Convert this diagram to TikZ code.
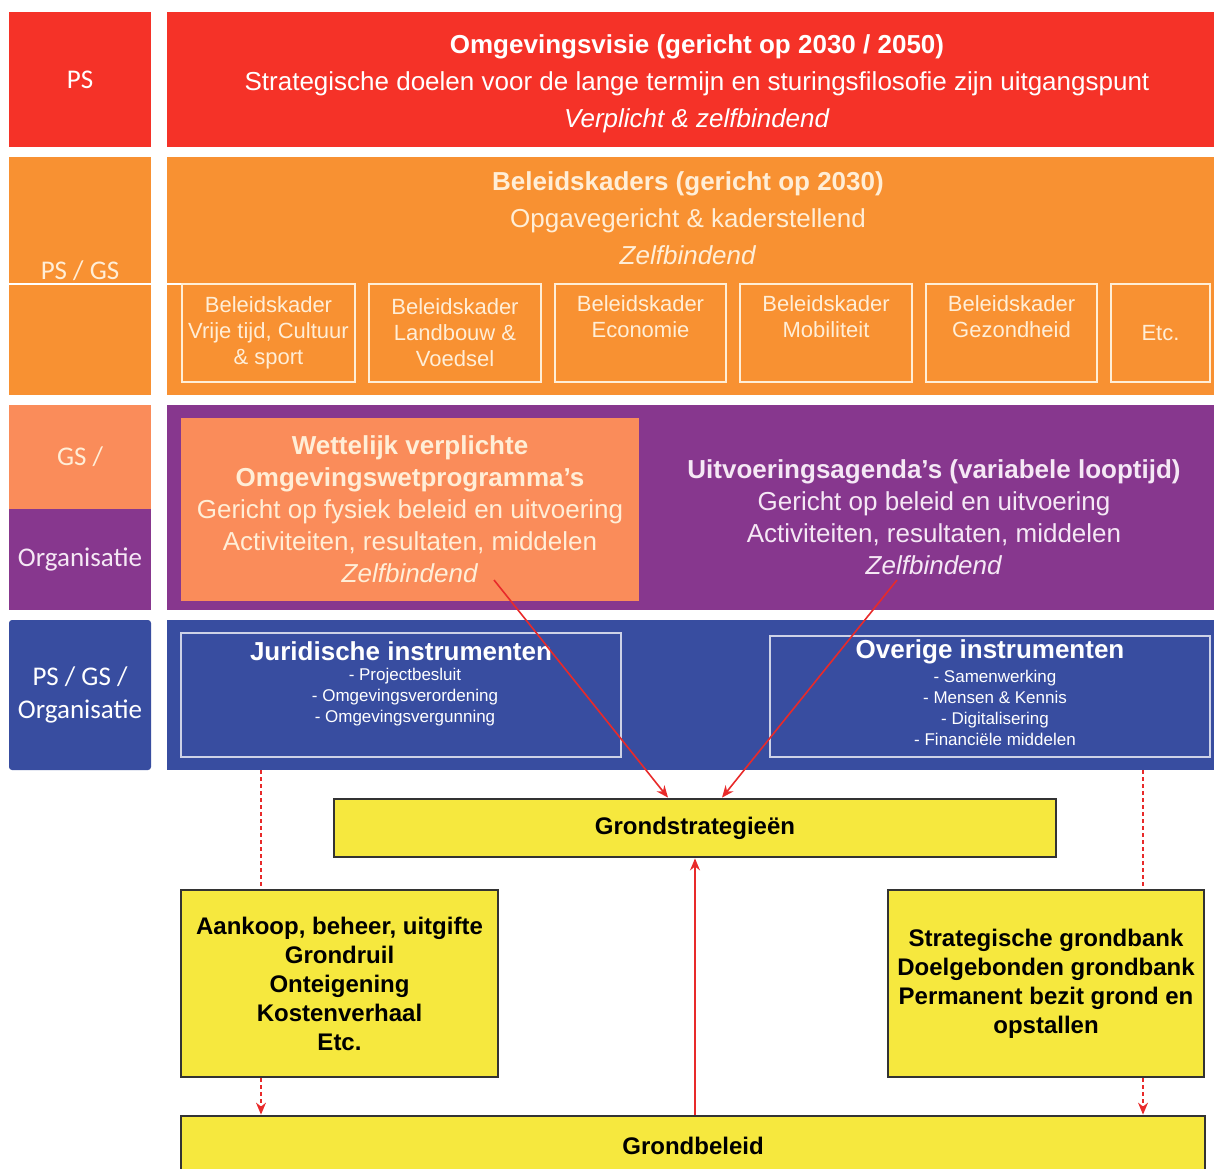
\documentclass[tikz,border=0pt]{standalone}
\usepackage{fontspec}
\setmainfont{Liberation Sans}
\newfontfamily\lblfont{Carlito}
\usetikzlibrary{arrows.meta}

\definecolor{visiered}{RGB}{245,50,40}
\definecolor{kaderorange}{RGB}{248,145,50}
\definecolor{progsalmon}{RGB}{250,140,90}
\definecolor{agendapurple}{RGB}{135,55,142}
\definecolor{instrblue}{RGB}{56,77,160}
\definecolor{grondyellow}{RGB}{246,232,62}
\definecolor{cream}{RGB}{255,238,215}
\definecolor{lavwhite}{RGB}{245,232,245}
\definecolor{lijnrood}{RGB}{232,42,42}

\tikzset{
  >={Stealth[length=6pt,width=5pt]},
  sz/.style 2 args={minimum width=#1*0.5pt,minimum height=#2*0.5pt},
  band/.style={inner sep=0pt,outer sep=0pt},
  lblbox/.style={band,align=center,font=\lblfont\fontsize{13.5}{16.5}\selectfont},
  kader/.style={draw=cream,line width=0.9pt,inner sep=0pt,text=cream,
    align=center,font=\fontsize{11}{13}\selectfont},
  instrbox/.style={draw=white!75!instrblue,line width=1pt,inner sep=0pt},
  grondbox/.style={draw=black!80,line width=1.4pt,fill=grondyellow,inner sep=0pt,
    align=center,font=\bfseries\fontsize{12}{14.5}\selectfont},
  bandtxt/.style={align=center,font=\fontsize{13}{18.5}\selectfont},
  progtxt/.style={align=center,font=\fontsize{13}{16}\selectfont},
  instrtitle/.style={text=white,font=\bfseries\fontsize{13}{15}\selectfont},
  itemtxt/.style={align=center,text=white,font=\fontsize{8.5}{10.6}\selectfont},
  flow/.style={->,lijnrood,line width=0.8pt},
  dflow/.style={lijnrood,line width=0.7pt,dash pattern=on 2pt off 1.5pt},
}

\begin{document}
\begin{tikzpicture}[x=0.5pt,y=-0.5pt]
  \useasboundingbox (0,0) rectangle (1214,1168);

  % linker kolom
  \node[lblbox,sz={142}{135},fill=visiered,text=white] (lps) at (80,79.5) {PS};
  \node[lblbox,sz={142}{238},fill=kaderorange] (lpsgs) at (80,276) {};
  \draw[white,line width=0.6pt] (lpsgs.west |- 0,284) -- (lpsgs.east |- 0,284);
  \node[lblbox,text=cream] (lpsgstxt) at (80,271) {PS / GS};
  \node[lblbox,sz={142}{104},fill=progsalmon,text=cream] (lgs) at (80,457) {GS /};
  \node[lblbox,sz={142}{101},fill=agendapurple,text=lavwhite] (lorg) at (80,559.5) {Organisatie};
  \node[lblbox,sz={142}{150},fill=instrblue,text=white,rounded corners=1.5pt] (lall) at (80,695)
    {PS / GS /\\Organisatie};

  % omgevingsvisie
  \node[band,sz={1063}{135},fill=visiered] (visie) at (698.5,79.5) {};
  \node[bandtxt,text=white] (visietxt) at (697,84)
    {\textbf{Omgevingsvisie (gericht op 2030 / 2050)}\\
     Strategische doelen voor de lange termijn en sturingsfilosofie zijn uitgangspunt\\
     \textit{Verplicht \& zelfbindend}};

  % beleidskaders
  \node[band,sz={1063}{238},fill=kaderorange] (kaders) at (698.5,276) {};
  \draw[white,line width=0.6pt] (167,284) -- (182,284);
  \node[bandtxt,text=cream] (kaderstxt) at (688,218.5)
    {\textbf{Beleidskaders (gericht op 2030)}\\
     Opgavegericht \& kaderstellend\\
     \textit{Zelfbindend}};
  \node[kader,sz={173}{98}] (k1) at (268.5,333) {Beleidskader\\Vrije tijd, Cultuur\\\& sport};
  \node[kader,sz={172}{98}] (k2) at (455,333) {Beleidskader\\Landbouw \&\\Voedsel};
  \node[kader,sz={171}{98}] (k3) at (640.5,333) {Beleidskader\\Economie\\\strut};
  \node[kader,sz={172}{98}] (k4) at (826,333) {Beleidskader\\Mobiliteit\\\strut};
  \node[kader,sz={171}{98}] (k5) at (1011.5,333) {Beleidskader\\Gezondheid\\\strut};
  \node[kader,sz={99}{98}] (k6) at (1160.5,333) {Etc.};

  % programma's en uitvoeringsagenda's
  \node[band,sz={1063}{205},fill=agendapurple] (agenda) at (698.5,507.5) {};
  \node[band,progtxt,sz={458}{183},fill=progsalmon,text=cream] (prog) at (410,509.5)
    {\textbf{Wettelijk verplichte}\\
     \textbf{Omgevingswetprogramma's}\\
     Gericht op fysiek beleid en uitvoering\\
     Activiteiten, resultaten, middelen\\
     \textit{Zelfbindend}};
  \node[progtxt,text=lavwhite] (agendatxt) at (934,517)
    {\textbf{Uitvoeringsagenda's (variabele looptijd)}\\
     Gericht op beleid en uitvoering\\
     Activiteiten, resultaten, middelen\\
     \textit{Zelfbindend}};

  % instrumenten
  \node[band,sz={1063}{150},fill=instrblue] (instr) at (698.5,695) {};
  \node[instrbox,sz={440}{124}] (jur) at (401,695) {};
  \node[instrbox,sz={440}{121}] (ov) at (990,696.5) {};
  \node[instrtitle] (jurtitle) at (401,651) {Juridische instrumenten};
  \node[itemtxt] (juritems) at (405,697)
    {- Projectbesluit\\- Omgevingsverordening\\- Omgevingsvergunning};
  \node[instrtitle] (ovtitle) at (990,652) {Overige instrumenten};
  \node[itemtxt] (ovitems) at (995,708)
    {- Samenwerking\\- Mensen \& Kennis\\- Digitalisering\\- Financiële middelen};

  % grond
  \node[grondbox,sz={722}{58}] (strat) at (695,828) {Grondstrategieën};
  \node[grondbox,sz={317}{187}] (kl) at (339.5,983.5)
    {Aankoop, beheer, uitgifte\\Grondruil\\Onteigening\\Kostenverhaal\\Etc.};
  \node[grondbox,sz={316}{187}] (kr) at (1046,983.5)
    {Strategische grondbank\\Doelgebonden grondbank\\Permanent bezit grond en\\opstallen};
  \node[grondbox,sz={1024}{59}] (beleid) at (693,1145.5) {Grondbeleid};

  % verbindingen
  \coordinate (zl) at (494,580);
  \coordinate (zr) at (897,580);
  \coordinate (dl) at (261,0);
  \coordinate (dr) at (1143,0);
  \draw[flow] (zl) -- ([xshift=-13.5pt]strat.north);
  \draw[flow] (zr) -- ([xshift=13.5pt]strat.north);
  \draw[flow] (beleid.north -| strat.south) -- (strat.south);
  \draw[dflow] (dl |- instr.south) -- (dl |- kl.north);
  \draw[dflow,->] (dl |- kl.south) -- (dl |- beleid.north);
  \draw[dflow] (dr |- instr.south) -- (dr |- kr.north);
  \draw[dflow,->] (dr |- kr.south) -- (dr |- beleid.north);
\end{tikzpicture}
\end{document}
